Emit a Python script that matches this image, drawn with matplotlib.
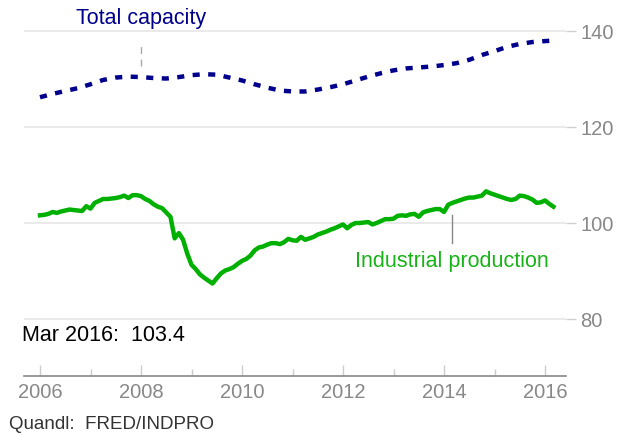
import numpy as np
import matplotlib
matplotlib.use("Agg")
import matplotlib.pyplot as plt
from matplotlib.ticker import MultipleLocator

plt.rcParams['font.family'] = ['Liberation Sans', 'DejaVu Sans']

# Industrial production, monthly Jan 2006 - Mar 2016
ip_2006 = [101.6, 101.7, 101.9, 102.3, 102.1, 102.4, 102.6, 102.8, 102.7, 102.6, 102.5, 103.5]
ip_2007 = [103.0, 104.2, 104.6, 105.0, 105.0, 105.1, 105.2, 105.4, 105.7, 105.2, 105.8, 105.8]
ip_2008 = [105.6, 105.0, 104.6, 103.9, 103.4, 103.1, 102.2, 101.3, 96.8, 97.9, 96.5, 93.6]
ip_2009 = [91.3, 90.4, 89.3, 88.6, 88.0, 87.4, 88.5, 89.5, 90.1, 90.4, 90.8, 91.5]
ip_2010 = [92.1, 92.5, 93.2, 94.3, 94.9, 95.1, 95.5, 95.8, 95.8, 95.6, 96.0, 96.7]
ip_2011 = [96.4, 96.3, 97.1, 96.5, 96.8, 97.1, 97.6, 97.9, 98.2, 98.6, 98.9, 99.3]
ip_2012 = [99.7, 98.9, 99.6, 100.0, 100.0, 100.1, 100.2, 99.7, 100.0, 100.4, 100.8, 100.8]
ip_2013 = [100.9, 101.5, 101.6, 101.5, 101.8, 101.9, 101.3, 102.2, 102.5, 102.7, 102.9, 102.9]
ip_2014 = [102.3, 103.8, 104.2, 104.5, 104.8, 105.1, 105.3, 105.3, 105.5, 105.7, 106.6, 106.2]
ip_2015 = [105.9, 105.6, 105.3, 105.0, 104.8, 105.0, 105.7, 105.6, 105.3, 104.9, 104.2, 104.3]
ip_2016 = [104.7, 104.0, 103.4]
industrial = (ip_2006 + ip_2007 + ip_2008 + ip_2009 + ip_2010 + ip_2011 +
              ip_2012 + ip_2013 + ip_2014 + ip_2015 + ip_2016)
ip_dates = [2006 + i / 12 for i in range(len(industrial))]

# Total capacity, quarterly-spaced readings plus Mar 2016
cap_dates = [2006 + 0.25 * i for i in range(41)] + [2016 + 2 / 12]
capacity = [126.2, 126.9, 127.5, 128.1, 128.9, 129.8, 130.3, 130.5, 130.4, 130.2,
            130.1, 130.4, 130.8, 131.0, 130.9, 130.3, 129.7, 128.9, 128.2, 127.6,
            127.4, 127.4, 127.8, 128.3, 128.9, 129.7, 130.5, 131.2, 131.8, 132.2,
            132.4, 132.6, 132.9, 133.3, 134.0, 135.0, 135.8, 136.7, 137.3, 137.7,
            137.9, 138.0]

x_ticks = [2006, 2008, 2010, 2012, 2014, 2016]
y_ticks = [80, 100, 120, 140]

navy = '#00008c'
green = '#00b000'
label_green = '#19b319'

W, H = 618, 435
left_px, right_px, bottom_px = 24.0, 566.0, 377.0
fig = plt.figure(figsize=(W / 100, H / 100), dpi=100)
ax = fig.add_axes([left_px / W, (H - bottom_px) / H, (right_px - left_px) / W, bottom_px / H])

px_per_year = (141.0 - 40.0) / 2
ax.set_xlim(2006 - (40.0 - left_px) / px_per_year, 2006 + (right_px - 40.0) / px_per_year)
ax.set_ylim(140 - (bottom_px - 32) / 4.8, 140 + 32 / 4.8)

for y in y_ticks:
    ax.axhline(y, color='#e6e6e6', lw=1.2, zorder=0)

ax.plot(cap_dates, capacity, color=navy, lw=3.2, dashes=(1.6, 1.9),
        solid_capstyle='butt', dash_capstyle='butt')
ax.plot(ip_dates, industrial, color=green, lw=3.2, solid_joinstyle='round')

# annotations
ax.plot([2008.0, 2008.0], [132.7, 137.6], color='#aaaaaa', lw=1.0, dashes=(5, 4))
ax.text(2008.0, 142.9, 'Total capacity', color=navy, fontsize=15.5,
        ha='center', va='center')
ax.plot([2014.15, 2014.15], [95.8, 101.7], color='#888888', lw=1.0)
ax.text(2014.15, 92.1, 'Industrial production', color=label_green, fontsize=15.5,
        ha='center', va='center')

for s in ['top', 'left', 'right']:
    ax.spines[s].set_visible(False)
ax.spines['bottom'].set_color('#888888')
ax.spines['bottom'].set_linewidth(1.2)

ax.set_xticks(x_ticks)
ax.set_xticklabels([str(t) for t in x_ticks])
ax.xaxis.set_minor_locator(MultipleLocator(1))
ax.tick_params(axis='x', which='major', direction='in', length=8.0, width=1,
               color='#cccccc', labelsize=14.5, labelcolor='#888888', pad=4)
ax.tick_params(axis='x', which='minor', direction='in', length=5.0, width=1,
               color='#cccccc')

ax.yaxis.tick_right()
ax.set_yticks(y_ticks)
ax.set_yticklabels([str(t) for t in y_ticks])
ax.tick_params(axis='y', which='major', direction='out', length=7.0, width=1,
               color='#d0d0d0', labelsize=14.5, labelcolor='#888888', pad=3.5)

fig.text(22 / W, (H - 336) / H, 'Mar 2016:  103.4', fontsize=15.5,
         color='black', ha='left', va='center')
fig.text(9 / W, (H - 425) / H, 'Quandl:  FRED/INDPRO', fontsize=13.5,
         color='#333333', ha='left', va='center')

fig.savefig('out.png', dpi=100)
